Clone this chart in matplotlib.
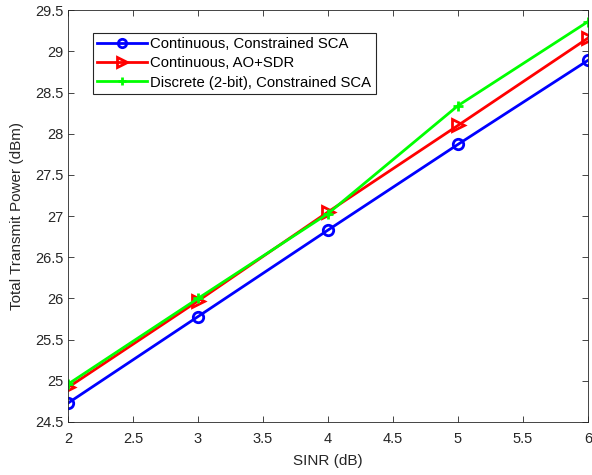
import matplotlib
matplotlib.use('Agg')
import matplotlib.pyplot as plt

plt.rcParams['font.family'] = ['Liberation Sans', 'DejaVu Sans']

# data
sinr = [2, 3, 4, 5, 6]
cont_sca = [24.73, 25.78, 26.83, 27.87, 28.89]
cont_sdr = [24.92, 25.97, 27.05, 28.10, 29.16]
disc_sca = [24.96, 26.00, 27.03, 28.34, 29.36]

fig = plt.figure(figsize=(5.92, 4.75), dpi=100)
ax = fig.add_axes([0.115, 0.1116, 0.878, 0.867])

ax.plot(sinr, cont_sca, color='#0000ff', lw=2, marker='o', ms=7.5,
        mfc='none', mew=2, label='Continuous, Constrained SCA')
ax.plot(sinr, cont_sdr, color='#ff0000', lw=2, marker='>', ms=8.5,
        mfc='none', mew=2, label='Continuous, AO+SDR')
ax.plot(sinr, disc_sca, color='#00ff00', lw=2, marker='+', ms=7.5,
        mew=2, label='Discrete (2-bit), Constrained SCA')

ax.set_xlim(2, 6)
ax.set_ylim(24.5, 29.5)
ax.set_xticks([2, 2.5, 3, 3.5, 4, 4.5, 5, 5.5, 6])
ax.set_xticklabels(['2', '2.5', '3', '3.5', '4', '4.5', '5', '5.5', '6'])
ax.set_yticks([24.5, 25, 25.5, 26, 26.5, 27, 27.5, 28, 28.5, 29, 29.5])
ax.set_yticklabels(['24.5', '25', '25.5', '26', '26.5', '27', '27.5', '28', '28.5', '29', '29.5'])
ax.tick_params(direction='in', top=True, right=True, labelsize=10.5,
               colors='#262626', length=4, width=0.6)
ax.tick_params(axis='x', pad=7)
for s in ax.spines.values():
    s.set_color('#262626')
    s.set_linewidth(0.6)

ax.set_xlabel('SINR (dB)', fontsize=11, color='#262626', labelpad=6)
ax.set_ylabel('Total Transmit Power (dBm)', fontsize=11, color='#262626', labelpad=8)

leg = ax.legend(loc='upper left', bbox_to_anchor=(0.048, 0.945), fontsize=10.7,
                fancybox=False, framealpha=1, edgecolor='#262626',
                handlelength=3.3, borderpad=0.3, labelspacing=0.35,
                handletextpad=0.25, borderaxespad=0, markerscale=0.8)
leg.get_frame().set_linewidth(0.8)

fig.savefig('out.png', dpi=100)
